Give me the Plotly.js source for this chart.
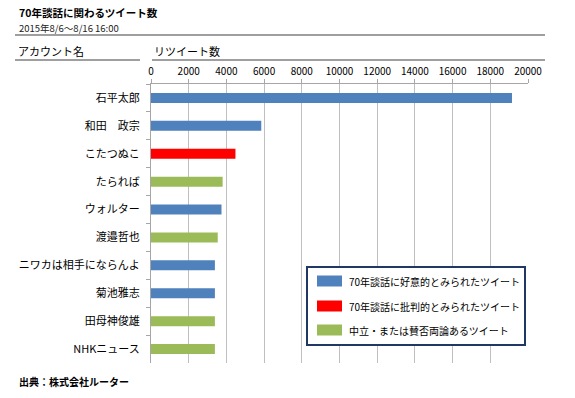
<!DOCTYPE html>
<html>
<head>
<meta charset="utf-8">
<script src="https://cdn.plot.ly/plotly-3.0.1.min.js"></script>
<style>html,body{margin:0;padding:0;background:#fff}</style>
</head>
<body>
<div id="chart" style="width:575px;height:398px"></div>
<script>
const accounts = ["石平太郎","和田　政宗","こたつぬこ","たられば","ウォルター","渡邉哲也","ニワカは相手にならんよ","菊池雅志","田母神俊雄","NHKニュース"];
const retweets = [19150, 5850, 4480, 3800, 3740, 3540, 3390, 3390, 3390, 3390];
const stance = ["pos","pos","neg","neu","pos","neu","pos","pos","neu","neu"];
const stanceKeys = ["pos","neg","neu"];
const stanceLabels = ["70年談話に好意的とみられたツイート","70年談話に批判的とみられたツイート","中立・または賛否両論あるツイート"];
const stanceColors = ["#4f81bd","#ff0000","#9bbb59"];
const xTicks = [0,2000,4000,6000,8000,10000,12000,14000,16000,18000,20000];

const W = 575, H = 398;
const L = 151, R = 528, T = 84, B = 363;
const px = x => (x - L) / (R - L);
const py = y => (B - y) / (B - T);
const FONT = '"Noto Sans CJK JP", "Noto Sans", sans-serif';

const traces = stanceKeys.map((k, i) => {
  const ys = [], xs = [];
  accounts.forEach((a, j) => { if (stance[j] === k) { ys.push(a); xs.push(retweets[j]); } });
  return {type:'bar', orientation:'h', x: xs, y: ys, name: stanceLabels[i],
          marker:{color: stanceColors[i]}, width: 0.36, showlegend:false, hoverinfo:'none'};
});

const shapes = [
  {type:'line', xref:'paper', yref:'paper', x0:px(15), x1:px(545), y0:py(35), y1:py(35), line:{color:'#7f7f7f', width:1.5}},
  {type:'line', xref:'paper', yref:'paper', x0:px(15), x1:px(140), y0:py(60), y1:py(60), line:{color:'#7f7f7f', width:1.5}},
  {type:'line', xref:'paper', yref:'paper', x0:px(152), x1:px(545), y0:py(60), y1:py(60), line:{color:'#7f7f7f', width:1.5}},
  {type:'rect', xref:'paper', yref:'paper', x0:px(307), x1:px(525), y0:py(267), y1:py(345), fillcolor:'#ffffff', line:{color:'#1f3864', width:2}, layer:'above'}
];
const annotations = [
  {text:'<b>70年談話に関わるツイート数</b>', xref:'paper', yref:'paper', x:px(17), y:py(13), xanchor:'left', yanchor:'middle', showarrow:false, font:{family:FONT, size:10.5, color:'#000'}},
  {text:'2015年8/6〜8/16 16:00', xref:'paper', yref:'paper', x:px(17), y:py(27.5), xanchor:'left', yanchor:'middle', showarrow:false, font:{family:FONT, size:9.5, color:'#222'}},
  {text:'アカウント名', xref:'paper', yref:'paper', x:px(16), y:py(51), xanchor:'left', yanchor:'middle', showarrow:false, font:{family:FONT, size:11, color:'#000'}},
  {text:'リツイート数', xref:'paper', yref:'paper', x:px(152), y:py(51), xanchor:'left', yanchor:'middle', showarrow:false, font:{family:FONT, size:11, color:'#000'}},
  {text:'<b>出典：株式会社ルーター</b>', xref:'paper', yref:'paper', x:px(17), y:py(381), xanchor:'left', yanchor:'middle', showarrow:false, font:{family:FONT, size:10, color:'#000'}}
];
const rowY = [281, 306, 330];
stanceKeys.forEach((k, i) => {
  shapes.push({type:'rect', xref:'paper', yref:'paper', x0:px(317), x1:px(342), y0:py(rowY[i]-5.5), y1:py(rowY[i]+5.5), fillcolor: stanceColors[i], line:{width:0}, layer:'above'});
  annotations.push({text: stanceLabels[i], xref:'paper', yref:'paper', x:px(347), y:py(rowY[i]), xanchor:'left', yanchor:'middle', showarrow:false, font:{family:FONT, size:10, color:'#000'}});
});

const layout = {
  width: W, height: H,
  margin: {l: L, r: W - R, t: T, b: H - B, pad: 0},
  paper_bgcolor:'#ffffff', plot_bgcolor:'#ffffff',
  barmode:'overlay',
  font:{family: FONT, color:'#000'},
  xaxis:{side:'top', range:[0,20000], tickvals: xTicks, ticktext: xTicks.map(String),
         showgrid:true, gridcolor:'#bfbfbf', gridwidth:1, zeroline:false,
         showline:true, linecolor:'#a6a6a6', linewidth:1,
         ticks:'outside', ticklen:4, tickcolor:'#a6a6a6',
         tickfont:{family:FONT, size:10, color:'#000'}, fixedrange:true},
  yaxis:{type:'category', categoryorder:'array', categoryarray: accounts, autorange:'reversed',
         showgrid:false, zeroline:false, showline:true, linecolor:'#a6a6a6', linewidth:1,
         ticks:'outside', ticklen:4, tickcolor:'#a6a6a6', tickson:'boundaries',
         tickfont:{family:FONT, size:11, color:'#000'}, ticklabelstandoff:8, fixedrange:true},
  shapes, annotations
};
Plotly.newPlot('chart', traces, layout, {displayModeBar:false, staticPlot:true});
</script>
</body>
</html>
